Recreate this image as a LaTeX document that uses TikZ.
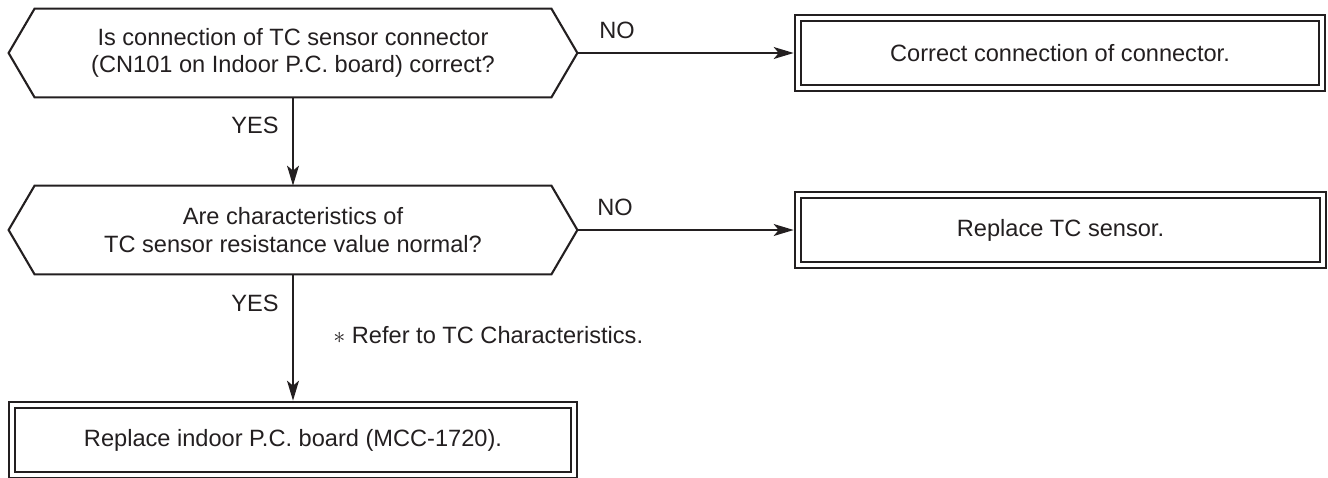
\documentclass[tikz,border=0pt]{standalone}
\usepackage{fontspec}
\setmainfont{Liberation Sans}
\usetikzlibrary{arrows.meta,calc}
\definecolor{ink}{RGB}{35,31,32}
\begin{document}
\begin{tikzpicture}[x=0.5pt,y=-0.5pt, font=\fontsize{11.8}{13.6}\selectfont, color=ink, text=ink,
  hexnode/.style={minimum width=284pt, minimum height=44pt, inner sep=0pt, align=center},
  hexline/.style={line width=1.05pt, line join=miter},
  boxnode/.style={draw, line width=1.35pt, inner sep=0pt, align=center},
  innerline/.style={line width=0.75pt},
  conn/.style={line width=0.65pt, -{Stealth[length=10pt,width=6pt,inset=2.5pt]}},
  lbl/.style={inner sep=0pt}]
\useasboundingbox (0,0) rectangle (1328,477);

% decision nodes
\node[hexnode] (q1) at (293,53) {Is connection of TC sensor connector\\(CN101 on Indoor P.C. board) correct?};
\node[hexnode] (q2) at (293,230) {Are characteristics of\\TC sensor resistance value normal?};
\foreach \q in {q1,q2}{
  \draw[hexline] (\q.west) -- ($(\q.north west)+(26,0)$) -- ($(\q.north east)+(-26,0)$)
     -- (\q.east) -- ($(\q.south east)+(-26,0)$) -- ($(\q.south west)+(26,0)$) -- cycle;
}

% action boxes
\node[boxnode, minimum width=265pt, minimum height=38pt] (b1) at (1060,53) {Correct connection of connector.};
\node[boxnode, minimum width=265.5pt, minimum height=38pt] (b2) at (1060.5,230) {Replace TC sensor.};
\node[boxnode, minimum width=284pt, minimum height=38pt] (b3) at (293,440) {Replace indoor P.C. board (MCC-1720).};
\foreach \b in {b1,b2,b3}{
  \draw[innerline] ([shift={(7.5,7.5)}]\b.north west) rectangle ([shift={(-7.5,-7.5)}]\b.south east);
}

% connectors
\draw[conn] (q1.east) -- (b1.west);
\draw[conn] (q1.south) -- (q2.north);
\draw[conn] (q2.east) -- (b2.west);
\draw[conn] (q2.south) -- (b3.north);

% labels
\node[lbl] (no1) at (617,30) {NO};
\node[lbl] (no2) at (615,207) {NO};
\node[lbl] (yes1) at (255,125) {YES};
\node[lbl] (yes2) at (255,303) {YES};
\node[lbl, anchor=west] (note) at (333,335) {$\ast$ Refer to TC Characteristics.};
\end{tikzpicture}
\end{document}
